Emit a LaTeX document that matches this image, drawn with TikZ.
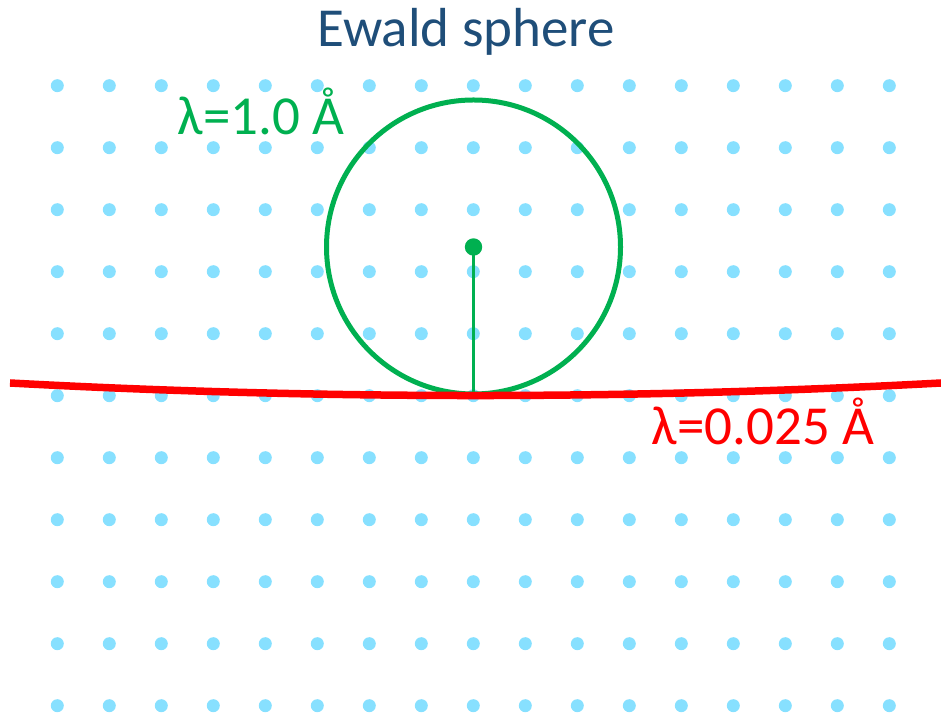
\documentclass[tikz,border=0pt]{standalone}
\usepackage{fontspec}
\setmainfont{Carlito}
\definecolor{latcyan}{HTML}{87E0FF}
\definecolor{ewgreen}{HTML}{00B050}
\definecolor{ewblue}{HTML}{1F4E79}
\begin{document}
\begin{tikzpicture}[x=1pt, y=1pt,
    latt/.style={fill=latcyan},
    lbl/.style={anchor=base, inner sep=0pt}]
    \useasboundingbox (0,0) rectangle (941,714);
    % reciprocal lattice points
    \foreach \i in {0,...,16}
        \foreach \j in {0,...,10}
            \fill[latt] (57.3+52*\i, 628.3-62*\j) circle[radius=6.5];
    % small sphere
    \coordinate (c1) at (473.5,467);
    \coordinate (o) at (473.5,319);
    \draw[ewgreen, line width=5pt] (c1) circle[radius=147];
    \draw[color=ewgreen, line width=2.2pt] (c1) -- (o);
    % large sphere
    \coordinate (l) at (10,331);
    \coordinate (r) at (941,331);
    \draw[red, line width=7.5pt] (l) .. controls (320.3,314.3) and (630.7,314.3) .. (r);
    \fill[ewgreen] (c1) circle[radius=8.7];
    % labels
    \node[lbl, ewblue, font=\fontsize{55}{55}\selectfont] (title) at (466,667) {Ewald sphere};
    \node[lbl, ewgreen, font=\fontsize{55}{55}\selectfont] (lam1) at (261,579) {λ=1.0 Å};
    \node[lbl, red, font=\fontsize{55}{55}\selectfont] (lam2) at (763,269) {λ=0.025 Å};
\end{tikzpicture}
\end{document}
